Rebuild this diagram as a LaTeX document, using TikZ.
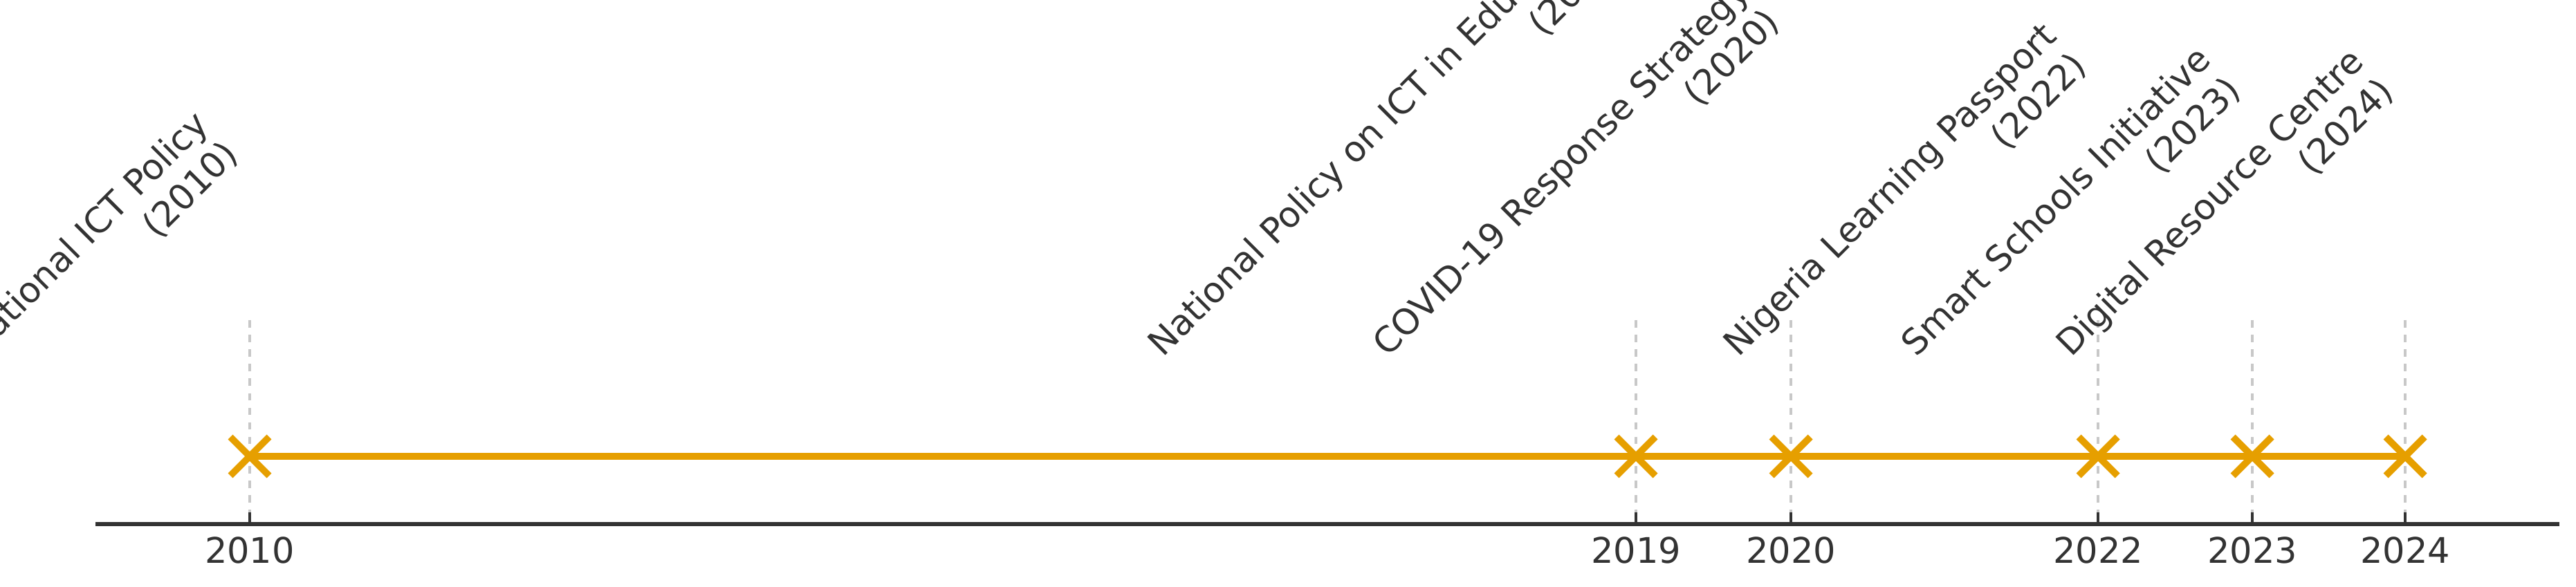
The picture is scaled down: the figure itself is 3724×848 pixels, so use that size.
\documentclass[tikz,border=0pt]{standalone}
\usepackage{fontspec}
\setmainfont{DejaVu Sans}
\usetikzlibrary{calc}
\definecolor{orng}{HTML}{E69F00}
\definecolor{txt}{HTML}{333333}
\definecolor{grd}{HTML}{C8C8C8}
\newcommand\tlabel[3]{%
  \node[lblf, inner sep=0pt] (#3w) at (#1) {\phantom{\begin{tabular}{@{}r@{}}#2\end{tabular}}};
  \path let \p1=(#3w.west), \p2=(#3w.east), \p3=(#1) in
    node[lblf, rotate=45, anchor=south east, inner sep=0pt] (#3) at (\x3, {\y3+0.7071*(\x2-\x1)}) {\begin{tabular}{@{}r@{}}#2\end{tabular}};}
\begin{document}
\begin{tikzpicture}[x=0.01cm,y=0.01cm,
  lblf/.style={text=txt, font=\fontsize{14.5pt}{17.4pt}\selectfont},
  guide/.style={grd, dashed, line width=1.2pt},
  tl/.style={orng, line width=2.9pt},
  xmark/.style={orng, line width=2.8pt},
  axisl/.style={txt, line width=1.5pt},
  tickl/.style={txt, line width=1.3pt},
  yr/.style={text=txt, font=\fontsize{14.5pt}{17pt}\selectfont, anchor=north, inner sep=0pt}]
\useasboundingbox (0,0) rectangle (3724,848);
\foreach \n/\x in {a/361,b/2365,c/2589,d/3033,e/3256,f/3477}{
  \coordinate (m\n) at (\x,848-660);
  \coordinate (g\n) at (\x,848-463);
  \coordinate (l\n) at (\x,848-575);
  \coordinate (t\n) at (\x,90+17);
  \coordinate (s\n) at (\x,90);
}
\coordinate (ax0) at (138,90);
\coordinate (ax1) at (3700,90);
\foreach \n in {a,b,c,d,e,f}{\draw[guide] (g\n) -- (s\n);}
\draw[axisl] (ax0) -- (ax1);
\foreach \n in {a,b,c,d,e,f}{\draw[tickl] (s\n) -- (t\n);}
\node[yr] (ya) at (361,72) {2010};
\node[yr] (yb) at (2365,72) {2019};
\node[yr] (yc) at (2589,72) {2020};
\node[yr] (yd) at (3033,72) {2022};
\node[yr] (ye) at (3256,72) {2023};
\node[yr] (yf) at (3477,72) {2024};
\draw[tl] (ma) -- (mb) -- (mc) -- (md) -- (me) -- (mf);
\foreach \n in {a,b,c,d,e,f}{
  \draw[xmark] ([shift={(-28,-28)}]m\n) -- ([shift={(28,28)}]m\n);
  \draw[xmark] ([shift={(-28,28)}]m\n) -- ([shift={(28,-28)}]m\n);}
\tlabel{la}{National ICT Policy\\(2010)}{na}
\tlabel{lb}{National Policy on ICT in Education\\(2019)}{nb}
\tlabel{lc}{COVID-19 Response Strategy\\(2020)}{nc}
\tlabel{ld}{Nigeria Learning Passport\\(2022)}{nd}
\tlabel{le}{Smart Schools Initiative\\(2023)}{ne}
\tlabel{lf}{Digital Resource Centre\\(2024)}{nf}
\end{tikzpicture}
\end{document}
